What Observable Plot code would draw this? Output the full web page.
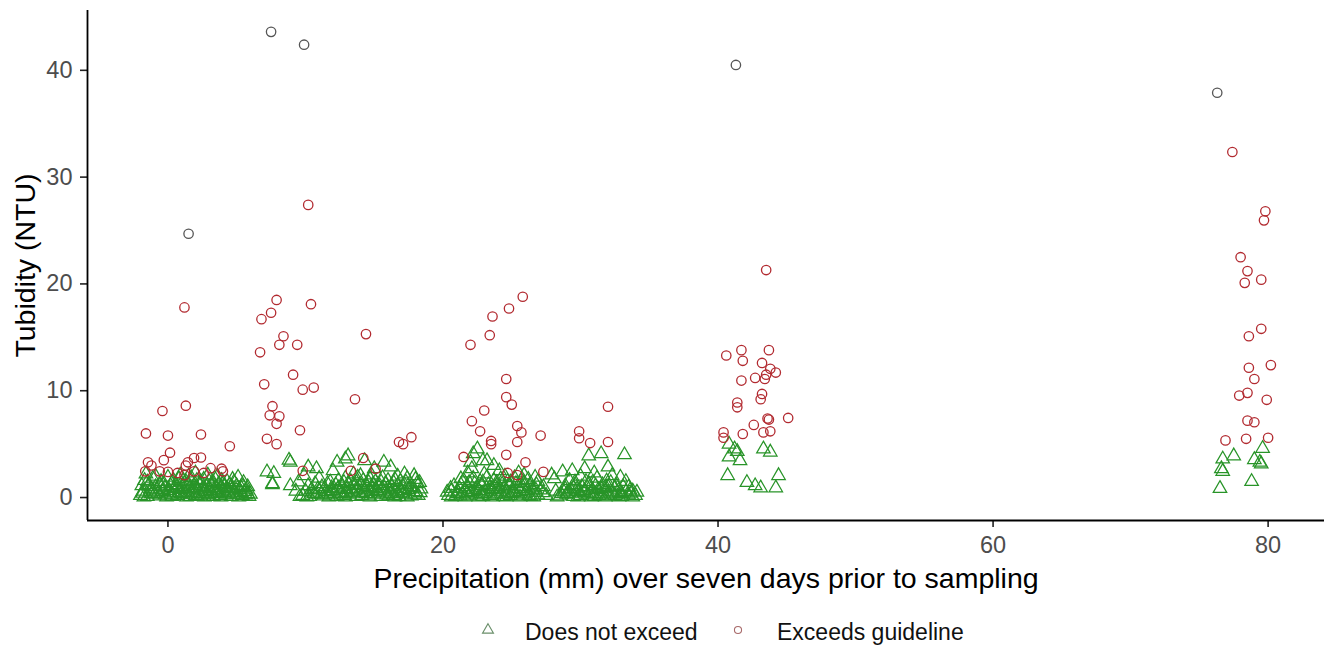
<!DOCTYPE html>
<html>
<head>
<meta charset="utf-8">
<script src="https://cdn.jsdelivr.net/npm/d3@7"></script>
<script src="https://cdn.jsdelivr.net/npm/@observablehq/plot@0.6"></script>
<style>
  html, body { margin: 0; padding: 0; background: #fff; }
  #wrap { width: 1327px; font-family: "Liberation Sans", Arial, sans-serif; }
  #legend { position: relative; width: 1327px; height: 50px; }
  #legend .lab { position: absolute; top: 19px; font-size: 23px; line-height: 26px; color: #111; }
  #legend svg { position: absolute; }
</style>
</head>
<body>
<div id="wrap"></div>
<script>
// ---- Data: [precipitation mm, turbidity NTU] ----
const seriesNames = ["Does not exceed", "Exceeds guideline"];
const xTicks = [0, 20, 40, 60, 80];
const yTicks = [0, 10, 20, 30, 40];
const xLabel = "Precipitation (mm) over seven days prior to sampling";
const yLabel = "Tubidity (NTU)";

const notExceedA = [
  [-2.0,0.2],[-1.5,0.1],[-1.0,0.3],[-0.6,0.15],[-0.2,0.25],[0.3,0.1],[0.7,0.2],[1.1,0.3],[1.6,0.1],[2.0,0.2],[2.4,0.15],[2.9,0.3],[3.3,0.1],[3.8,0.2],[4.2,0.25],[4.6,0.1],[5.0,0.3],[5.4,0.2],[5.8,0.35],
  [-1.8,0.6],[-1.3,0.5],[-0.8,0.7],[-0.4,0.55],[0.1,0.65],[0.5,0.5],[0.9,0.75],[1.4,0.6],[1.8,0.5],[2.2,0.7],[2.7,0.55],[3.1,0.65],[3.5,0.5],[4.0,0.7],[4.4,0.6],[4.8,0.5],[5.2,0.75],[5.6,0.55],
  [-1.9,1.1],[-1.4,1.2],[-0.9,1.0],[-0.3,1.3],[0.2,1.1],[0.6,1.2],[1.0,1.0],[1.5,1.25],[1.9,1.1],[2.3,1.3],[2.8,1.0],[3.2,1.15],[3.7,1.3],[4.1,1.05],[4.5,1.2],[5.0,1.1],[5.3,0.95],
  [-1.7,1.6],[-1.1,1.8],[-0.5,1.5],[0.0,1.9],[0.4,1.6],[0.8,1.75],[1.3,1.5],[1.7,1.85],[2.1,1.6],[2.6,1.7],[3.0,1.5],[3.4,1.8],[3.9,1.6],[4.3,1.5],[5.1,1.9],[5.5,1.4],
  [-1.6,2.2],[0.9,2.1],[2.0,2.3],[3.6,2.0],
  [-1.2,0.35],[0.0,0.4],[0.8,0.45],[1.7,0.3],[2.5,0.4],[3.6,0.35],[4.4,0.4],[5.9,0.1],[-0.2,0.9],[1.2,0.85],[2.0,0.9],[3.0,0.85],[3.9,0.95],[4.7,0.85],[5.7,0.7],[6.0,0.3],[5.8,1.0],
  [-1.75,0.05],[-1.25,0.8],[-0.75,0.4],[-0.1,0.05],[0.45,0.85],[0.95,0.35],[1.35,0.05],[1.85,0.8],[2.25,0.35],[2.65,0.05],[3.15,0.4],[3.45,0.95],[3.85,0.05],[4.25,0.85],[4.75,0.3],[5.15,0.05],[5.45,1.05],
  [-1.5,1.45],[-0.6,1.15],[0.3,1.4],[1.1,1.55],[2.4,1.45],[3.3,1.4],[4.0,1.35],[4.8,1.45],[-0.9,2.0],[1.5,2.0],[2.9,2.1],[4.7,1.7],
  [-1.85,0.4],[-1.05,0.6],[-0.35,0.75],[0.25,0.25],[0.65,0.95],[1.25,0.45],[1.55,0.8],[2.15,0.1],[2.55,0.9],[2.95,0.25],[3.35,0.7],[3.75,0.6],[4.15,0.45],[4.55,0.95],[4.95,0.7],[5.35,0.45],[5.65,0.25]
];
const notExceedB = [
  [9.8,0.2],[10.3,0.1],[10.8,0.3],[11.3,0.15],[11.8,0.25],[12.3,0.1],[12.8,0.2],[13.2,0.3],[13.7,0.1],[14.1,0.2],[14.6,0.15],[15.0,0.3],[15.5,0.1],[15.9,0.25],[16.4,0.2],[16.8,0.1],[17.3,0.3],[17.7,0.15],[18.2,0.2],
  [10.0,0.6],[10.5,0.5],[11.0,0.7],[11.5,0.55],[12.0,0.65],[12.5,0.5],[13.0,0.75],[13.4,0.6],[13.9,0.5],[14.3,0.7],[14.8,0.55],[15.2,0.65],[15.7,0.5],[16.1,0.7],[16.6,0.6],[17.0,0.5],[17.5,0.75],[18.0,0.55],
  [10.2,1.1],[11.2,1.0],[12.2,1.2],[12.7,1.05],[13.1,1.3],[13.6,1.1],[14.0,1.2],[14.5,1.0],[14.9,1.25],[15.4,1.1],[15.8,1.3],[16.3,1.0],[16.7,1.15],[17.2,1.2],[17.6,1.0],[18.1,1.3],
  [12.4,1.6],[12.9,1.8],[13.3,1.5],[13.8,1.9],[14.2,1.6],[14.7,1.75],[15.1,1.5],[15.6,1.85],[16.0,1.6],[16.5,1.7],[16.9,1.5],[17.4,1.8],[18.3,1.4],
  [10.6,0.35],[11.6,0.4],[12.6,0.35],[13.5,0.4],[14.4,0.35],[15.3,0.4],[16.2,0.35],[17.1,0.4],[11.4,0.85],[12.4,0.9],[13.3,0.85],[14.2,0.9],[15.1,0.85],[16.0,0.9],[16.9,0.85],[17.8,0.9],
  [7.2,2.4],[7.7,2.25],[7.6,1.2],[8.9,3.3],[10.2,2.85],[10.8,2.7],[8.9,1.1],[9.5,1.45],[9.9,2.05],[11.6,1.3],[13.1,3.9],[12.3,3.3],[12.9,3.6],[14.3,3.45],[15.7,3.3],[16.2,2.85],[17.2,2.2],[17.9,2.05],[15.0,2.7],[14.0,2.05],[8.8,3.5],[7.6,1.3],
  [10.1,0.05],[10.9,0.8],[11.7,0.05],[12.1,0.35],[12.9,0.05],[13.8,0.8],[14.7,0.05],[15.6,0.8],[16.5,0.05],[17.4,0.05],[18.4,0.8],[10.7,1.3],[11.8,1.45],[12.8,1.4],[13.7,1.45],[14.6,1.4],[15.5,1.45],[16.4,1.4],[17.3,1.45],[18.0,1.7],
  [11.0,1.8],[13.5,2.2],[14.8,2.1],[16.7,2.0],[12.0,2.5],[9.3,0.6],[9.6,0.1],[11.9,0.9],
  [10.45,0.75],[11.15,0.3],[11.85,0.6],[12.35,0.8],[12.95,0.45],[13.65,0.7],[14.15,0.45],[14.85,0.95],[15.45,0.6],[16.05,0.15],[16.75,0.4],[17.25,0.65],[17.95,0.3],[18.35,0.45]
];
const notExceedC = [
  [20.4,0.2],[20.9,0.1],[21.4,0.3],[21.9,0.15],[22.4,0.25],[22.9,0.1],[23.4,0.2],[23.9,0.3],[24.4,0.1],[24.9,0.2],[25.4,0.15],[25.9,0.3],[26.4,0.1],[26.9,0.25],[27.5,0.2],[28.5,0.15],[29.0,0.3],[29.5,0.1],[30.0,0.2],[30.5,0.25],[31.0,0.1],[31.5,0.3],[32.0,0.15],[32.5,0.2],[33.0,0.1],[33.5,0.25],[34.0,0.2],
  [20.6,0.6],[21.1,0.5],[21.6,0.7],[22.1,0.55],[22.6,0.65],[23.1,0.5],[23.6,0.75],[24.1,0.6],[24.6,0.5],[25.1,0.7],[25.6,0.55],[26.1,0.65],[26.6,0.5],[27.1,0.7],[28.2,0.6],[28.8,0.5],[29.3,0.7],[29.8,0.55],[30.3,0.65],[30.8,0.5],[31.3,0.75],[31.8,0.6],[32.3,0.5],[32.8,0.7],[33.3,0.55],[33.8,0.6],
  [20.8,1.1],[21.3,1.2],[21.8,1.0],[22.3,1.3],[22.8,1.1],[23.3,1.2],[23.8,1.0],[24.3,1.25],[24.8,1.1],[25.3,1.3],[25.8,1.0],[26.3,1.15],[26.8,1.2],[27.3,1.0],[28.9,1.1],[29.6,1.2],[30.1,1.0],[30.6,1.3],[31.1,1.1],[31.6,1.2],[32.6,1.15],[33.1,1.0],
  [21.5,1.6],[22.2,1.8],[22.7,1.5],[23.2,1.9],[23.7,1.6],[24.2,1.75],[24.7,1.5],[25.2,1.85],[25.7,1.6],[26.2,1.7],[29.2,1.6],[30.4,1.5],[31.2,1.8],[31.9,1.55],
  [21.0,0.35],[22.0,0.4],[23.0,0.35],[24.0,0.4],[25.0,0.35],[26.0,0.4],[29.0,0.35],[30.0,0.4],[31.0,0.35],[32.0,0.4],[33.0,0.35],[21.2,0.85],[22.5,0.9],[23.5,0.85],[24.5,0.9],[25.5,0.85],[26.5,0.9],[29.5,0.85],[30.5,0.9],[31.5,0.85],[32.5,0.9],
  [22.5,4.55],[22.9,3.45],[22.1,2.7],[23.7,3.0],[21.3,1.75],[30.6,3.9],[31.5,4.1],[33.2,4.0],[32.0,2.85],[32.3,2.05],[32.9,1.9],[28.7,2.4],[29.4,2.5],[30.3,2.7],[26.7,1.9],[28.1,1.75],[33.5,0.97],[33.6,0.7],[32.0,1.0],
  [22.2,4.1],[22.0,3.3],[23.2,3.45],[24.1,2.5],[25.5,2.3],[27.9,2.1],
  [20.3,0.5],[20.6,0.05],[21.6,0.05],[22.6,0.05],[23.6,0.05],[24.6,0.05],[25.6,0.05],[26.6,0.05],[27.3,0.45],[28.3,0.05],[28.9,0.8],[29.8,0.05],[30.8,0.05],[31.8,0.05],[32.8,0.05],[33.8,0.05],[34.1,0.5],
  [21.9,1.4],[22.9,1.45],[23.9,1.4],[24.9,1.45],[25.9,1.4],[26.9,1.5],[29.6,1.45],[30.9,1.45],[32.2,1.4],[33.3,1.5],[23.0,2.2],[24.5,2.0],[25.9,2.1],[21.8,2.3],[31.0,2.3],[30.0,2.0],
  [20.55,0.85],[21.25,0.15],[21.75,0.45],[22.35,0.75],[22.85,0.35],[23.45,0.6],[23.95,0.8],[24.55,0.3],[25.15,0.45],[25.65,0.8],[26.25,0.2],[26.75,0.7],[28.6,0.35],[29.15,0.6],[29.75,0.8],[30.25,0.45],[30.85,0.7],[31.35,0.2],[31.85,0.95],[32.35,0.3],[32.95,0.45],[33.65,0.4]
];
const notExceedD = [
  [40.8,5.0],[41.2,4.55],[40.8,3.8],[41.6,3.45],[41.4,4.3],[43.3,4.55],[43.8,4.25],[40.7,2.05],[42.1,1.4],[42.7,1.1],[43.1,0.9],[44.2,0.9],[44.4,2.05]
];
const notExceedE = [
  [79.6,4.6],[77.5,3.9],[76.7,3.6],[79.0,3.55],[79.4,3.3],[79.5,3.15],[76.6,2.7],[76.7,2.45],[78.8,1.5],[76.5,0.85]
];

const exceedsA = [
  [-0.4,8.1],[1.3,8.6],[-1.6,6.0],[0.0,5.8],[2.4,5.9],[4.5,4.8],[0.15,4.2],[-0.3,3.5],[-1.45,3.3],[-1.2,3.0],[1.45,3.3],[1.9,3.7],[2.4,3.75],[1.3,3.0],
  [-1.65,2.45],[-0.6,2.45],[0.0,2.4],[0.7,2.3],[1.2,2.1],[1.9,2.45],[2.6,2.3],[3.1,2.75],[3.9,2.7],[4.0,2.45],[1.2,17.8]
];
const exceedsB = [
  [7.0,10.6],[9.8,10.1],[10.6,10.3],[13.6,9.2],[7.6,8.55],[7.4,7.7],[8.1,7.6],[7.9,6.9],[9.6,6.3],[7.2,5.5],[7.9,5.0],[16.8,5.2],[17.1,5.0],[17.7,5.65],
  [9.8,2.5],[14.2,3.7],[13.3,2.5],[15.1,2.7],[10.2,27.4],[7.9,18.5],[7.5,17.3],[6.8,16.7],[10.4,18.1],[14.4,15.3],[8.4,15.1],[8.1,14.3],[9.4,14.3],[6.7,13.6],[9.1,11.5]
];
const exceedsC = [
  [25.8,18.8],[24.8,17.7],[23.6,16.95],[23.4,15.2],[22.0,14.3],[24.6,11.1],[24.6,9.4],[25.0,8.7],[23.0,8.15],[32.0,8.5],[22.1,7.15],[22.7,6.2],[25.4,6.7],[25.7,6.1],
  [27.1,5.8],[29.9,6.2],[29.9,5.55],[30.7,5.1],[32.0,5.2],[23.5,5.3],[23.5,5.0],[25.4,5.2],[21.5,3.8],[24.6,4.0],[26.0,3.3],[27.3,2.4],[24.7,2.3],[25.4,2.1]
];
const exceedsD = [
  [43.5,21.3],[40.6,13.3],[41.7,13.8],[43.7,13.8],[41.8,12.8],[43.2,12.6],[43.8,12.05],[44.2,11.7],[41.7,10.95],[42.7,11.2],[43.4,11.1],[43.5,11.5],
  [43.2,9.7],[43.1,9.2],[41.4,8.9],[41.4,8.45],[45.1,7.45],[43.6,7.4],[42.6,6.8],[40.4,6.1],[40.4,5.6],[41.8,5.95],[43.3,6.1],[43.8,6.2],[43.7,7.3]
];
const exceedsE = [
  [77.4,32.35],[79.8,26.8],[79.7,25.95],[78.0,22.5],[78.5,21.2],[78.3,20.1],[79.5,20.4],[79.5,15.8],[78.6,15.1],[80.2,12.4],[78.6,12.15],[79.0,11.1],
  [77.9,9.55],[78.5,9.8],[79.9,9.15],[78.5,7.2],[79.0,7.05],[76.9,5.35],[78.4,5.5],[80.0,5.6]
];
// highest readings, drawn in a darker grey outline in the source
const exceedsTop = [[7.5,43.6],[9.9,42.4],[1.5,24.7],[41.3,40.5],[76.3,37.9]];

const xDomain = [-5.85, 84.1];
const yDomain = [-2.15, 45.6];

// ---- Build tables ----
const toRows = (arr, group) => arr.map(([x, y]) => ({x, y, group}));
const belowRows = [notExceedA, notExceedB, notExceedC, notExceedD, notExceedE].flatMap(a => toRows(a, seriesNames[0]));
const aboveRows = [exceedsA, exceedsB, exceedsC, exceedsD, exceedsE].flatMap(a => toRows(a, seriesNames[1]));
const topRows = toRows(exceedsTop, seriesNames[1]);

const green = "#289428", red = "#b22a30", grey = "#555555";

const chart = Plot.plot({
  width: 1327,
  height: 600,
  marginLeft: 87,
  marginRight: 3,
  marginTop: 10,
  marginBottom: 80,
  style: {fontFamily: "'Liberation Sans', Arial, sans-serif", background: "#fff"},
  x: {domain: xDomain},
  y: {domain: yDomain},
  marks: [
    Plot.axisX({ticks: xTicks, tickSize: 7, tickPadding: 9, fontSize: 23.5, fill: "#4d4d4d", stroke: "#222", strokeWidth: 1.6, label: null}),
    Plot.axisY({ticks: yTicks, tickSize: 7, tickPadding: 8, fontSize: 23.5, fill: "#4d4d4d", stroke: "#222", strokeWidth: 1.6, label: null}),
    Plot.ruleX([xDomain[0]], {stroke: "#000", strokeWidth: 1.8}),
    Plot.ruleY([yDomain[0]], {stroke: "#000", strokeWidth: 1.8}),
    Plot.dot(belowRows, {x: "x", y: "y", symbol: "triangle", r: 5, stroke: green, strokeWidth: 1.25, fill: "none"}),
    Plot.dot(aboveRows, {x: "x", y: "y", symbol: "circle", r: 4.7, stroke: red, strokeWidth: 1.3, fill: "none"}),
    Plot.dot(topRows, {x: "x", y: "y", symbol: "circle", r: 4.7, stroke: grey, strokeWidth: 1.3, fill: "none"}),
    Plot.text([xLabel], {frameAnchor: "bottom", lineAnchor: "middle", textAnchor: "middle", dy: 58, fontSize: 28.5, fill: "#000"}),
    Plot.text([yLabel], {frameAnchor: "left", lineAnchor: "middle", textAnchor: "middle", dx: -62, rotate: -90, fontSize: 28.5, fill: "#000"})
  ]
});

const wrap = document.getElementById("wrap");
wrap.appendChild(chart);

// ---- Legend (below the SVG) ----
const legend = document.createElement("div");
legend.id = "legend";
const ns = "http://www.w3.org/2000/svg";
function addSymbol(cx, kind) {
  const s = document.createElementNS(ns, "svg");
  s.setAttribute("width", 20); s.setAttribute("height", 20);
  s.style.left = (cx - 10) + "px"; s.style.top = "20px";
  const sym = kind === "triangle" ? d3.symbolTriangle : d3.symbolCircle;
  const p = document.createElementNS(ns, "path");
  p.setAttribute("d", d3.symbol(sym, kind === "triangle" ? 52 : 40)());
  p.setAttribute("transform", "translate(10,10)");
  p.setAttribute("fill", "none");
  p.setAttribute("stroke", kind === "triangle" ? "#6a8f6a" : "#a86a6a");
  p.setAttribute("stroke-width", 1.1);
  s.appendChild(p);
  legend.appendChild(s);
}
function addLabel(x, t) {
  const d = document.createElement("div");
  d.className = "lab"; d.style.left = x + "px"; d.textContent = t;
  legend.appendChild(d);
}
addSymbol(488, "triangle"); addLabel(525, seriesNames[0]);
addSymbol(738, "circle");   addLabel(777, seriesNames[1]);
wrap.appendChild(legend);
</script>
</body>
</html>
